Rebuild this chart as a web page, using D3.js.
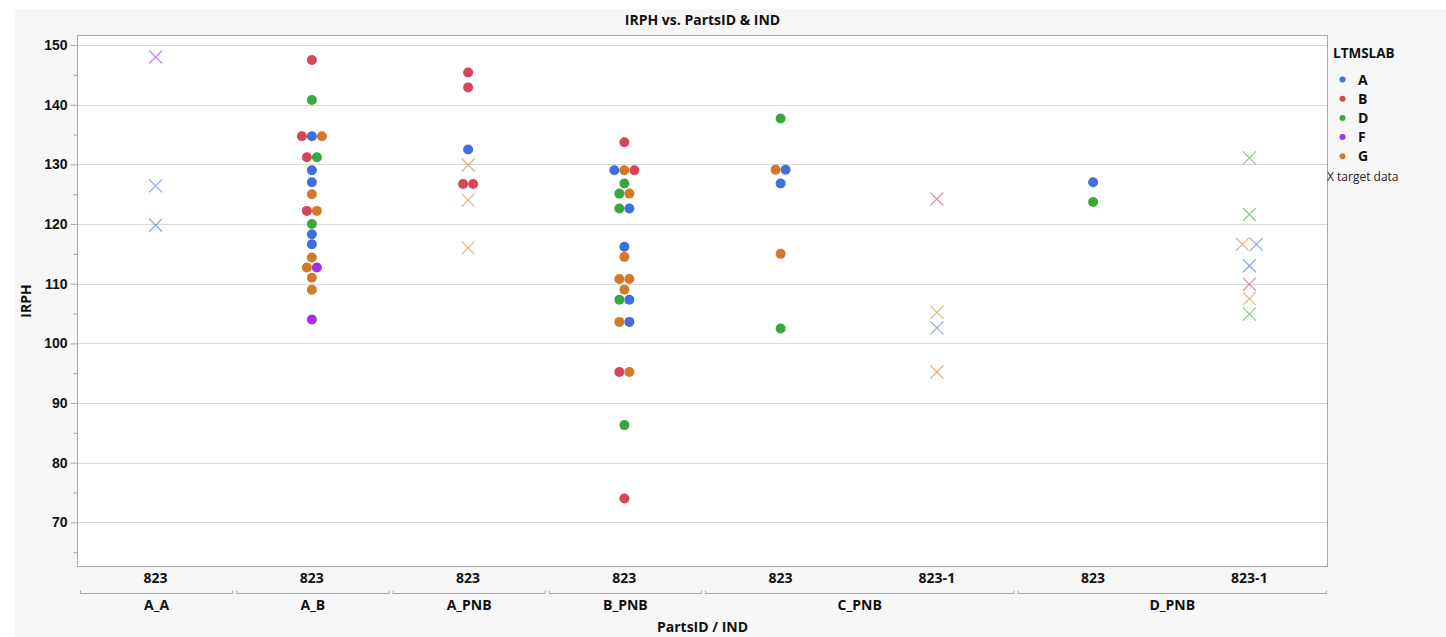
<!DOCTYPE html>
<html lang="en">
<head>
    <meta charset="UTF-8">
    <title>IRPH vs. PartsID & IND</title>
    <style>
        body { margin: 0; padding: 0; background: #fff; }
        svg { font-family: "Open Sans", "DejaVu Sans", sans-serif; }
        .tick-lbl { font-size: 14px; font-weight: bold; fill: #111; }
        .grid { stroke: #d9d9d9; stroke-width: 1px; }
    </style>
</head>
<body>
    <div id="chart"></div>

    <script src="https://d3js.org/d3.v7.min.js"></script>
    <script>
        // Categories on the x axis (PartsID / IND)
        const partsIDs = ["A_A", "A_B", "A_PNB", "B_PNB", "C_PNB", "C_PNB", "D_PNB", "D_PNB"];
        const inds = ["823", "823", "823", "823", "823", "823-1", "823", "823-1"];

        // Legend groups
        const labs = ["A", "B", "D", "F", "G"];
        const labColors = ["#3f6fdc", "#d6465b", "#38a83c", "#a332e2", "#d27a28"];

        // Observed IRPH per column, [LTMSLAB, IRPH]
        const observed = [
            [],
            [["B", 147.5], ["D", 140.8], ["B", 134.7], ["A", 134.7], ["G", 134.7], ["B", 131.2], ["D", 131.2],
             ["A", 129.0], ["A", 127.0], ["G", 125.0], ["B", 122.2], ["G", 122.2], ["D", 120.0], ["A", 118.3],
             ["A", 116.6], ["G", 114.4], ["G", 112.7], ["F", 112.7], ["G", 111.0], ["G", 109.0], ["F", 104.0]],
            [["B", 145.4], ["B", 142.9], ["A", 132.5], ["B", 126.7], ["B", 126.7]],
            [["B", 133.7], ["A", 129.0], ["G", 129.0], ["B", 129.0], ["D", 126.8], ["D", 125.1], ["G", 125.1],
             ["D", 122.6], ["A", 122.6], ["A", 116.2], ["G", 114.5], ["G", 110.8], ["G", 110.8], ["G", 109.0],
             ["D", 107.3], ["A", 107.3], ["G", 103.6], ["A", 103.6], ["B", 95.2], ["G", 95.2], ["D", 86.3], ["B", 74.0]],
            [["D", 137.7], ["G", 129.1], ["A", 129.1], ["A", 126.8], ["G", 115.0], ["D", 102.5]],
            [],
            [["A", 127.0], ["D", 123.7]],
            []
        ];

        // Target data per column, [LTMSLAB, IRPH]
        const targets = [
            [["F", 148.0], ["A", 126.4], ["A", 119.8]],
            [],
            [["G", 129.9], ["G", 124.0], ["G", 116.0]],
            [],
            [],
            [["B", 124.2], ["G", 105.2], ["A", 102.6], ["G", 95.2]],
            [],
            [["D", 131.1], ["D", 121.6], ["G", 116.6], ["A", 116.6], ["A", 113.0], ["B", 109.9], ["G", 107.5], ["D", 104.9]]
        ];

        const yTicks = [70, 80, 90, 100, 110, 120, 130, 140, 150];
        const yMinorTicks = [65, 75, 85, 95, 105, 115, 125, 135, 145];

        // Layout
        const W = 1446, H = 637;
        const plot = { left: 77.5, top: 35.5, right: 1327.5, bottom: 566.5 };

        const svg = d3.select("#chart").append("svg")
            .attr("width", W)
            .attr("height", H);

        svg.append("rect")
            .attr("x", 15).attr("y", 9)
            .attr("width", W - 15).attr("height", H - 9)
            .attr("fill", "#f7f7f7");

        const x = d3.scaleBand()
            .domain(d3.range(partsIDs.length))
            .range([plot.left, plot.right]);

        const y = d3.scaleLinear()
            .domain([62.6, 151.6])
            .range([plot.bottom, plot.top]);

        const color = d3.scaleOrdinal().domain(labs).range(labColors);

        svg.append("rect")
            .attr("x", plot.left).attr("y", plot.top)
            .attr("width", plot.right - plot.left)
            .attr("height", plot.bottom - plot.top)
            .attr("fill", "#fff");

        // Grid lines
        svg.append("g").selectAll("line")
            .data(yTicks)
            .enter().append("line")
            .attr("class", "grid")
            .attr("x1", plot.left).attr("x2", plot.right)
            .attr("y1", d => Math.round(y(d)) + 0.5)
            .attr("y2", d => Math.round(y(d)) + 0.5);

        // Y axis
        const yAxis = d3.axisLeft(y).tickValues(yTicks).tickSize(7).tickPadding(3);
        const gy = svg.append("g")
            .attr("transform", `translate(${plot.left},0)`)
            .call(yAxis);
        gy.select(".domain").remove();
        gy.selectAll("line").attr("stroke", "#a8a8a8");
        gy.selectAll("text").attr("class", "tick-lbl");

        const gyMinor = svg.append("g")
            .attr("transform", `translate(${plot.left},0)`)
            .call(d3.axisLeft(y).tickValues(yMinorTicks).tickSize(4).tickFormat(""));
        gyMinor.select(".domain").remove();
        gyMinor.selectAll("line").attr("stroke", "#a8a8a8");

        // Frame
        svg.append("rect")
            .attr("x", plot.left).attr("y", plot.top)
            .attr("width", plot.right - plot.left)
            .attr("height", plot.bottom - plot.top)
            .attr("fill", "none")
            .attr("stroke", "#a8a8a8");

        // X axis: IND labels
        svg.append("g").selectAll("text")
            .data(inds)
            .enter().append("text")
            .attr("class", "tick-lbl")
            .attr("x", (d, i) => x(i) + x.bandwidth() / 2)
            .attr("y", 583)
            .attr("text-anchor", "middle")
            .text(d => d);

        // X axis: PartsID brackets
        const groups = [];
        partsIDs.forEach((p, i) => {
            const last = groups[groups.length - 1];
            if (last && last.name === p) last.end = i;
            else groups.push({ name: p, start: i, end: i });
        });

        const gb = svg.append("g");
        groups.forEach(g => {
            const x0 = x(g.start) + 3, x1 = x(g.end) + x.bandwidth() - 1;
            gb.append("path")
                .attr("d", `M${x0},590.5V593.5H${x1}V590.5`)
                .attr("fill", "none")
                .attr("stroke", "#a8a8a8");
            gb.append("text")
                .attr("class", "tick-lbl")
                .attr("x", (x0 + x1) / 2)
                .attr("y", 610)
                .attr("text-anchor", "middle")
                .text(g.name);
        });

        // Axis titles
        svg.append("text")
            .attr("class", "tick-lbl")
            .attr("x", (plot.left + plot.right) / 2)
            .attr("y", 632)
            .attr("text-anchor", "middle")
            .text("PartsID / IND");

        svg.append("text")
            .attr("class", "tick-lbl")
            .attr("transform", `translate(31,${(plot.top + plot.bottom) / 2}) rotate(-90)`)
            .attr("text-anchor", "middle")
            .text("IRPH");

        svg.append("text")
            .attr("x", (plot.left + plot.right) / 2)
            .attr("y", 25)
            .attr("text-anchor", "middle")
            .style("font-size", "14px")
            .style("font-weight", "bold")
            .attr("fill", "#111")
            .text("IRPH vs. PartsID & IND");

        // Place points side by side when they share a row
        function layout(list, col, spacing) {
            const rows = [];
            list.forEach(([lab, v]) => {
                const py = y(v);
                let row = rows.find(r => Math.abs(r.py - py) < 3);
                if (!row) { row = { py: py, items: [] }; rows.push(row); }
                row.items.push({ lab: lab, v: v });
            });
            const cx = x(col) + x.bandwidth() / 2;
            const out = [];
            rows.forEach(r => {
                const n = r.items.length;
                r.items.forEach((it, k) => {
                    out.push({ lab: it.lab, v: it.v, px: cx + (k - (n - 1) / 2) * spacing });
                });
            });
            return out;
        }

        const dots = [];
        observed.forEach((list, col) => dots.push(...layout(list, col, 10)));
        const crosses = [];
        targets.forEach((list, col) => crosses.push(...layout(list, col, 14)));

        svg.append("g").selectAll("path")
            .data(crosses)
            .enter().append("path")
            .attr("d", d => {
                const cx = d.px, cy = y(d.v), s = 6.5;
                return `M${cx - s},${cy - s}L${cx + s},${cy + s}M${cx - s},${cy + s}L${cx + s},${cy - s}`;
            })
            .attr("fill", "none")
            .attr("stroke", d => color(d.lab))
            .attr("stroke-opacity", 0.6)
            .attr("stroke-width", 1.2);

        svg.append("g").selectAll("circle")
            .data(dots)
            .enter().append("circle")
            .attr("cx", d => d.px)
            .attr("cy", d => y(d.v))
            .attr("r", 5)
            .attr("fill", d => color(d.lab));

        // Legend
        const lg = svg.append("g");
        lg.append("text")
            .attr("x", 1333).attr("y", 58)
            .style("font-size", "13.5px").style("font-weight", "bold")
            .attr("fill", "#111")
            .text("LTMSLAB");

        const items = lg.selectAll(".item")
            .data(labs)
            .enter().append("g")
            .attr("class", "item")
            .attr("transform", (d, i) => `translate(0,${79.5 + i * 19.2})`);
        items.append("circle")
            .attr("cx", 1342.5).attr("cy", 0).attr("r", 3)
            .attr("fill", d => color(d));
        items.append("text")
            .attr("x", 1358).attr("y", 5)
            .style("font-size", "14px").style("font-weight", "bold")
            .attr("fill", "#111")
            .text(d => d);

        lg.append("text")
            .attr("x", 1327).attr("y", 181)
            .style("font-size", "12px")
            .attr("fill", "#222")
            .text("X target data");
    </script>
</body>
</html>
